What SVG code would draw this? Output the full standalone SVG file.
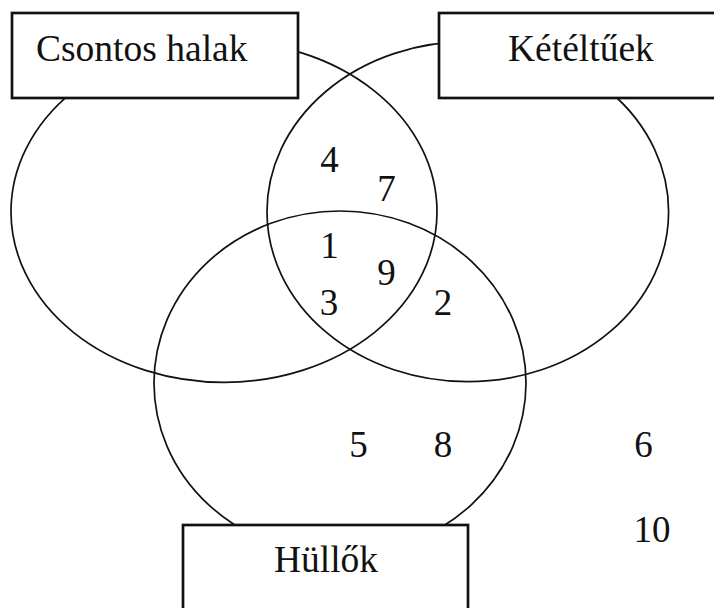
<svg xmlns="http://www.w3.org/2000/svg" width="714" height="608" viewBox="0 0 714 608">
  <style>
    .set { fill: none; stroke: #111; stroke-width: 1.7; }
    .box { fill: #fff; stroke: #111; stroke-width: 2.7; }
    text { font-family: 'Liberation Serif', Tinos, 'Times New Roman', Times, 'DejaVu Serif', serif; fill: #111; }
    .lbl { font-size: 37.5px; }
    .num { font-size: 37px; text-anchor: middle; }
  </style>
  <rect width="714" height="608" fill="#fff"/>
  <g id="sets">
    <ellipse id="set-csontos-halak" class="set" cx="224" cy="211.7" rx="213" ry="170.6"/>
    <ellipse id="set-keteltuek" class="set" cx="467.8" cy="211.7" rx="200.8" ry="170"/>
    <ellipse id="set-hullok" class="set" cx="340" cy="383" rx="186" ry="172"/>
  </g>
  <g id="connectors"></g>
  <g id="label-csontos-halak">
    <rect class="box" x="12" y="13" width="286" height="85"/>
    <text class="lbl" x="36" y="61" font-family="Liberation Serif, serif">Csontos halak</text>
  </g>
  <g id="label-keteltuek">
    <rect class="box" x="439" y="13" width="290" height="85"/>
    <text class="lbl" x="508" y="61" font-family="Liberation Serif, serif">Kétéltűek</text>
  </g>
  <g id="label-hullok">
    <rect class="box" x="183" y="525" width="285" height="95"/>
    <text class="lbl" x="326" y="572" text-anchor="middle" font-family="Liberation Serif, serif">Hüllők</text>
  </g>
  <g id="elements">
    <text class="num" x="329.5" y="171.5">4</text>
    <text class="num" x="386.5" y="201">7</text>
    <text class="num" x="329.5" y="258">1</text>
    <text class="num" x="386.5" y="285">9</text>
    <text class="num" x="329" y="315">3</text>
    <text class="num" x="443" y="315">2</text>
    <text class="num" x="358.5" y="457">5</text>
    <text class="num" x="443" y="457">8</text>
    <text class="num" x="643.5" y="457">6</text>
    <text class="num" x="652" y="542">10</text>
  </g>
</svg>
